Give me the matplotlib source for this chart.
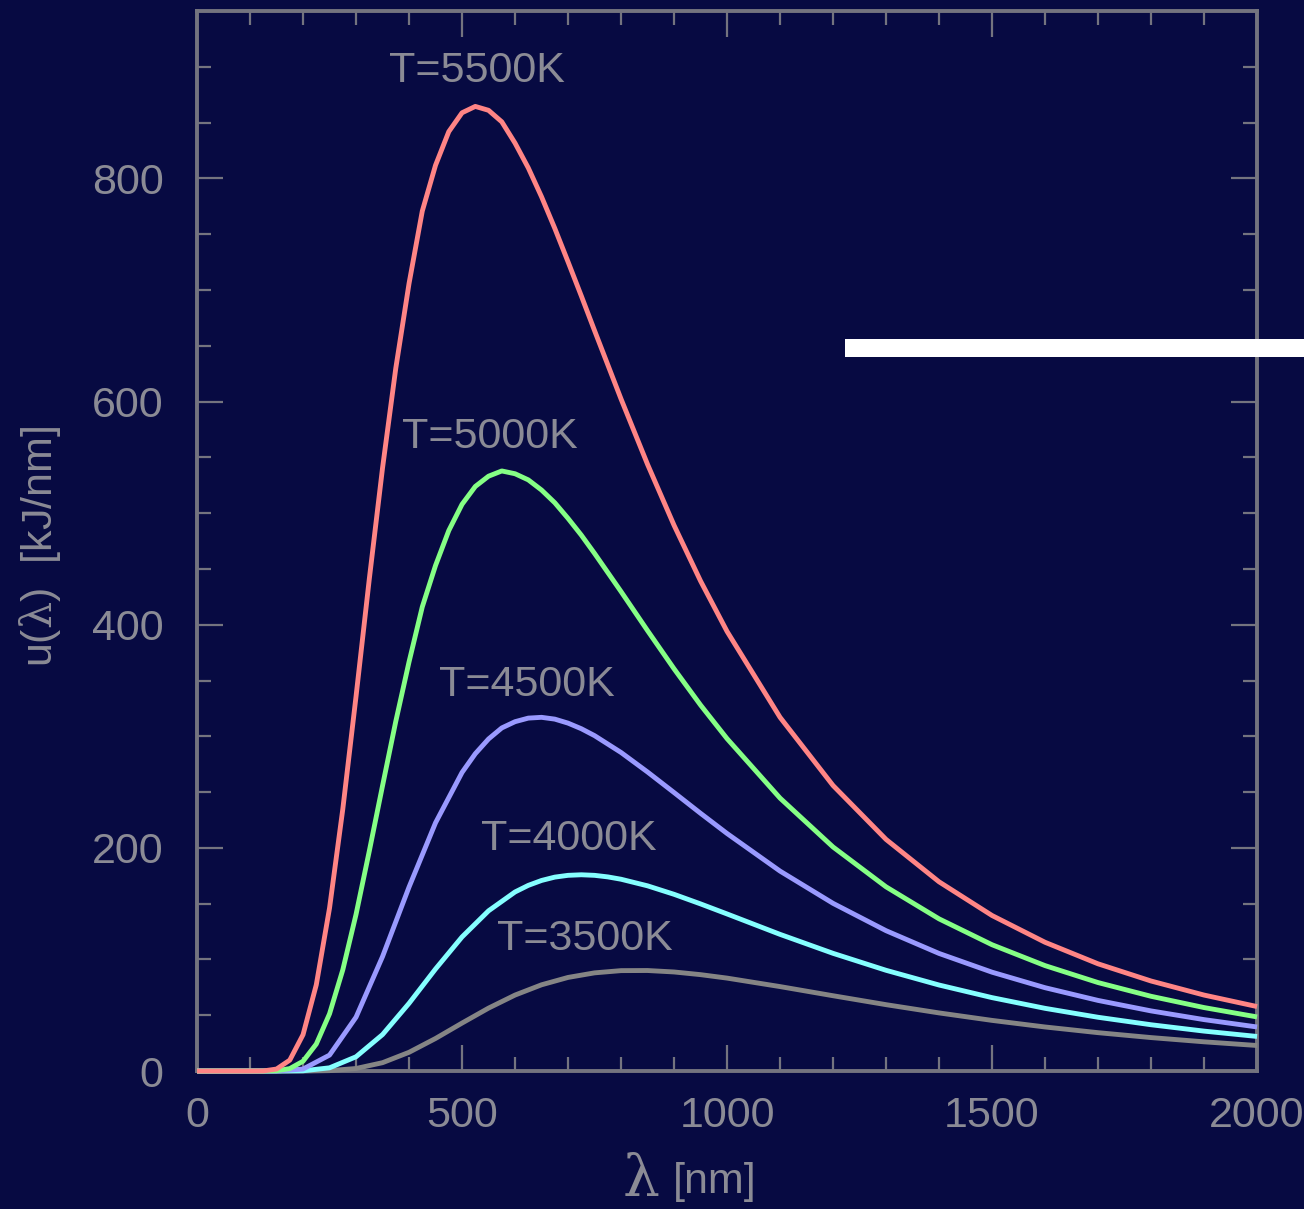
import matplotlib
matplotlib.use("Agg")
import matplotlib.pyplot as plt
from matplotlib.patches import Rectangle
from matplotlib.ticker import MultipleLocator

# ---- data ----
wl_fine = [0, 100, 125, 150, 175, 200, 225, 250, 275, 300, 325, 350, 375, 400, 425, 450,
           475, 500, 525, 550, 575, 600, 625, 650, 675, 700, 725, 750, 800, 850, 900, 950,
           1000, 1100, 1200, 1300, 1400, 1500, 1600, 1700, 1800, 1900, 2000]
u_5500 = [0, 0, 0.1, 1.8, 9.8, 32.6, 77.3, 146.1, 234.7, 335.8, 440.9, 540.5, 629.9, 705.8,
          770.7, 811.8, 841.9, 858.8, 864.5, 861.0, 850.7, 831.6, 809.4, 783.5, 755.2, 725.2,
          694.7, 663.6, 602.3, 543.7, 489.1, 439.2, 394.0, 317.0, 255.9, 207.6, 169.6, 139.4,
          115.4, 96.1, 80.7, 68.1, 57.8]
u_5000 = [0, 0, 0, 0.3, 2.2, 8.8, 24.2, 51.3, 90.7, 140.4, 197.1, 255.7, 313.4, 366.7,
          416.0, 453.1, 484.4, 507.9, 523.9, 533.1, 537.8, 535.3, 529.8, 520.7, 509.3, 495.3,
          480.3, 463.9, 429.7, 394.7, 360.5, 328.0, 297.9, 244.6, 200.8, 165.1, 136.4, 113.2,
          94.5, 79.3, 67.0, 56.9, 48.5]

wl_4500 = [0, 100, 150, 200, 250, 300, 350, 400, 450, 500, 525, 550, 575, 600, 625, 650,
           675, 700, 725, 750, 800, 850, 900, 950, 1000, 1100, 1200, 1300, 1400, 1500, 1600,
           1700, 1800, 1900, 2000]
u_4500 = [0, 0, 0.04, 1.8, 14.3, 48.3, 102.6, 164.9, 222.5, 267.6, 284.4, 297.6, 307.5,
          313.1, 316.3, 317.0, 315.4, 311.8, 306.8, 300.6, 285.5, 268.0, 249.6, 231.0, 212.9,
          179.2, 150.3, 125.8, 105.4, 88.6, 74.7, 63.3, 53.9, 46.1, 39.5]

wl_4000 = [0, 100, 150, 200, 250, 300, 350, 400, 450, 500, 550, 600, 625, 650, 675, 700,
           725, 750, 775, 800, 850, 900, 950, 1000, 1100, 1200, 1300, 1400, 1500, 1600,
           1700, 1800, 1900, 2000]
u_4000 = [0, 0, 0, 0.24, 2.9, 12.8, 32.7, 60.7, 91.5, 120.2, 143.6, 160.5, 166.4, 170.8,
          173.8, 175.4, 175.9, 175.4, 174.0, 171.9, 166.0, 158.4, 149.8, 140.8, 122.5, 105.5,
          90.3, 77.1, 65.8, 56.2, 48.2, 41.5, 35.8, 31.0]

wl_3500 = [0, 100, 150, 200, 250, 300, 350, 400, 450, 500, 550, 600, 650, 700, 750, 800,
           850, 900, 950, 1000, 1100, 1200, 1300, 1400, 1500, 1600, 1700, 1800, 1900, 2000]
u_3500 = [0, 0, 0, 0.02, 0.37, 2.3, 7.5, 16.8, 29.2, 43.0, 56.4, 68.1, 77.3, 83.9, 88.0,
          90.0, 90.1, 88.8, 86.4, 83.3, 75.7, 67.5, 59.5, 52.1, 45.4, 39.5, 34.4, 30.0,
          26.2, 22.9]

labels = ["T=5500K", "T=5000K", "T=4500K", "T=4000K", "T=3500K"]
label_pos = [(528, 896), (552, 568), (622, 346), (701, 208), (731, 118)]

# ---- style ----
BG = "#070a42"
AX = "#74747f"
TXT = "#8b8b95"
colors = {"5500": "#ff8585", "5000": "#85ff85", "4500": "#9a9aff",
          "4000": "#85ffff", "3500": "#858585"}

plt.rcParams['font.family'] = ['Liberation Sans', 'DejaVu Sans']
plt.rcParams['mathtext.fontset'] = 'custom'
plt.rcParams['mathtext.it'] = 'DejaVu Serif'
plt.rcParams['mathtext.rm'] = 'DejaVu Serif'

fig = plt.figure(figsize=(13.04, 12.09), dpi=100, facecolor=BG)
ax = fig.add_axes([0.1511, 0.1141, 0.8129, 0.8768])
ax.set_facecolor(BG)

lw = 3.5
series = [(wl_3500, u_3500, "3500"), (wl_4000, u_4000, "4000"), (wl_4500, u_4500, "4500"),
          (wl_fine, u_5000, "5000"), (wl_fine, u_5500, "5500")]
for wl, u, key in series:
    ax.plot(wl, u, color=colors[key], lw=lw, solid_capstyle='butt',
            solid_joinstyle='round', clip_on=False, zorder=3)

for lab, (x, y) in zip(labels, label_pos):
    ax.text(x, y, lab, color=TXT, fontsize=31, ha='center', va='center')

ax.set_xlim(0, 2000)
ax.set_ylim(0, 950)
ax.xaxis.set_major_locator(MultipleLocator(500))
ax.xaxis.set_minor_locator(MultipleLocator(100))
ax.yaxis.set_major_locator(MultipleLocator(200))
ax.yaxis.set_minor_locator(MultipleLocator(50))

for s in ax.spines.values():
    s.set_color(AX)
    s.set_linewidth(2.8)
    s.set_zorder(2)

ax.tick_params(which='both', direction='in', top=True, right=True, color=AX,
               labelcolor=TXT, labelsize=31, width=1.6)
ax.tick_params(which='major', length=19)
ax.tick_params(which='minor', length=10)
ax.tick_params(axis='y', which='major', pad=24)
ax.tick_params(axis='x', which='major', pad=18)

# axis labels
fig.text(0.031, 0.548, r'u($\lambda$)  [kJ/nm]', rotation=90, color=TXT, fontsize=31,
         ha='center', va='center')
fig.text(0.4920, 0.0105, 'λ', family='DejaVu Serif', color=TXT, fontsize=42,
         ha='center', va='baseline')
fig.text(0.5485, 0.0135, '[nm]', color=TXT, fontsize=31, ha='center', va='baseline')

# white bar artifact
fig.add_artist(Rectangle((845 / 1304, 1 - 357 / 1209), (1304 - 845) / 1304, 18 / 1209,
                         transform=fig.transFigure, facecolor='white', edgecolor='none',
                         zorder=10))

fig.savefig("out.png", dpi=100, facecolor=BG)
